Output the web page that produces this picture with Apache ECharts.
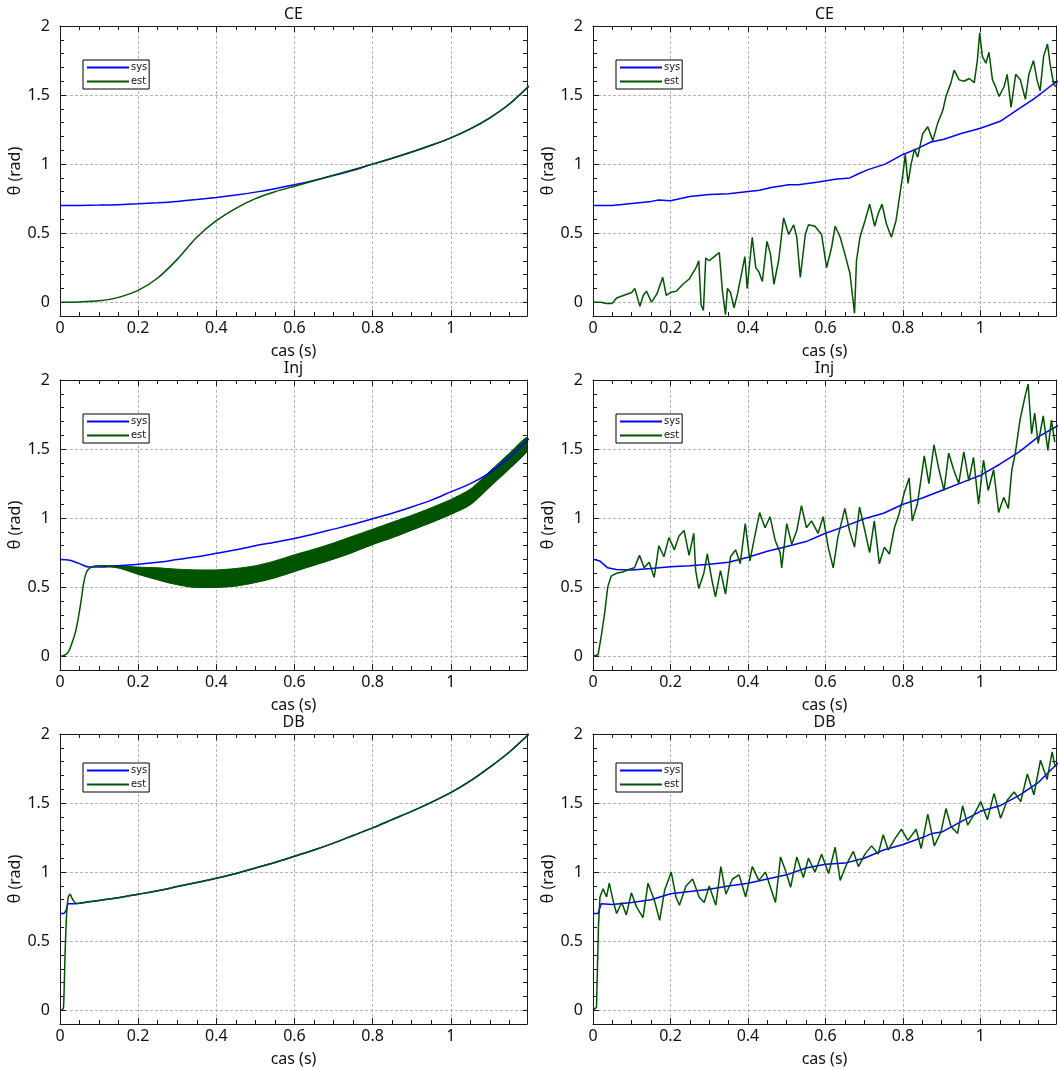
<!DOCTYPE html>
<html><head><meta charset="utf-8">
<script src="https://cdn.jsdelivr.net/npm/echarts@6/dist/echarts.min.js"></script>
<style>html,body{margin:0;padding:0;background:#fff}#c{width:1059px;height:1070px}</style>
</head><body><div id="c"></div>
<script>
// ---------- tick labels ----------
const xTicks = [0, 0.2, 0.4, 0.6, 0.8, 1];
const yTicks = [0, 0.5, 1, 1.5, 2];
const panelTitles = ['CE', 'CE', 'Inj', 'Inj', 'DB', 'DB'];
const seriesNames = ['sys', 'est'];

// ---------- left CE ----------
const leftCE_t   = [0,0.05,0.1,0.15,0.2,0.25,0.3,0.35,0.4,0.45,0.5,0.55,0.6,0.65,0.7,0.75,0.8,0.85,0.9,0.95,1,1.05,1.1,1.15,1.2];
const leftCE_sys = [0.700,0.701,0.703,0.706,0.712,0.720,0.730,0.743,0.758,0.776,0.797,0.822,0.850,0.882,0.917,0.956,1.000,1.042,1.087,1.136,1.190,1.255,1.335,1.435,1.565];
const leftCE_est = [0.000,0.002,0.010,0.035,0.085,0.175,0.310,0.470,0.590,0.680,0.750,0.800,0.840,0.880,0.920,0.960,1.000,1.042,1.087,1.136,1.190,1.255,1.335,1.435,1.565];

// ---------- left Inj ----------
const leftInj_sys_t = [0,0.025,0.05,0.075,0.1,0.15,0.2,0.25,0.3,0.35,0.4,0.45,0.5,0.55,0.6,0.65,0.7,0.75,0.8,0.85,0.9,0.95,1,1.05,1.1,1.15,1.2];
const leftInj_sys   = [0.700,0.695,0.670,0.645,0.645,0.655,0.665,0.680,0.700,0.720,0.745,0.770,0.800,0.825,0.853,0.885,0.920,0.955,0.995,1.035,1.080,1.130,1.190,1.250,1.330,1.440,1.575];
const leftInj_est_t = [0,0.01,0.021,0.03,0.04,0.047,0.054,0.06,0.068,0.08,0.1,0.15,0.2,0.25,0.3,0.35,0.4,0.45,0.5,0.55,0.6,0.65,0.7,0.75,0.8,0.85,0.9,0.95,1,1.05,1.1,1.15,1.195];
const leftInj_est   = [0,0.005,0.03,0.09,0.18,0.28,0.40,0.52,0.61,0.645,0.655,0.640,0.595,0.555,0.520,0.500,0.500,0.510,0.535,0.570,0.615,0.660,0.705,0.755,0.810,0.860,0.915,0.970,1.030,1.100,1.230,1.360,1.485];
// fast oscillation band of est: lower and upper edges
const leftInj_band_t  = [0.1,0.15,0.2,0.25,0.3,0.35,0.4,0.45,0.5,0.55,0.6,0.65,0.7,0.75,0.8,0.85,0.9,0.95,1,1.05,1.1,1.15,1.195];
const leftInj_bandLow = [0.655,0.640,0.595,0.555,0.520,0.500,0.500,0.510,0.535,0.570,0.615,0.660,0.705,0.755,0.810,0.860,0.915,0.970,1.030,1.100,1.230,1.360,1.485];
const leftInj_bandHigh= [0.655,0.655,0.645,0.640,0.630,0.625,0.625,0.635,0.655,0.690,0.735,0.775,0.820,0.870,0.920,0.970,1.020,1.075,1.135,1.210,1.340,1.470,1.585];

// ---------- left DB ----------
const leftDB_sys_t = [0,0.009,0.013,0.017,0.021,0.03,0.045,0.05,0.1,0.15,0.2,0.25,0.3,0.35,0.4,0.45,0.5,0.55,0.6,0.65,0.7,0.75,0.8,0.85,0.9,0.95,1,1.05,1.1,1.15,1.2];
const leftDB_sys   = [0.70,0.70,0.71,0.735,0.77,0.77,0.772,0.775,0.795,0.815,0.840,0.865,0.895,0.925,0.955,0.990,1.030,1.070,1.115,1.160,1.210,1.265,1.320,1.380,1.440,1.505,1.575,1.660,1.760,1.870,2.000];
const leftDB_est_t = [0,0.006,0.009,0.013,0.017,0.021,0.026,0.03,0.038,0.045,0.05,0.1,0.15,0.2,0.25,0.3,0.35,0.4,0.45,0.5,0.55,0.6,0.65,0.7,0.75,0.8,0.85,0.9,0.95,1,1.05,1.1,1.15,1.2];
const leftDB_est   = [0,0.005,0.02,0.41,0.70,0.815,0.84,0.815,0.78,0.772,0.775,0.795,0.815,0.840,0.865,0.895,0.925,0.955,0.990,1.030,1.070,1.115,1.160,1.210,1.265,1.320,1.380,1.440,1.505,1.575,1.660,1.760,1.870,2.000];

// ---------- right CE ----------
const rightCE_sys_t = [0,0.05,0.1,0.15,0.17,0.2,0.25,0.3,0.35,0.395,0.43,0.46,0.505,0.53,0.582,0.625,0.663,0.685,0.71,0.754,0.8,0.836,0.872,0.906,0.948,1.0,1.051,1.094,1.137,1.188,1.2];
const rightCE_sys   = [0.70,0.70,0.715,0.73,0.74,0.735,0.765,0.78,0.785,0.80,0.81,0.83,0.85,0.85,0.87,0.89,0.90,0.93,0.96,1.0,1.07,1.11,1.16,1.18,1.22,1.26,1.31,1.39,1.47,1.58,1.60];
const rightCE_est_t = [0,0.02,0.035,0.049,0.061,0.08,0.1,0.108,0.121,0.13,0.138,0.151,0.165,0.18,0.189,0.2,0.215,0.232,0.249,0.266,0.273,0.279,0.285,0.291,0.3,0.313,0.326,0.334,0.342,0.347,0.355,0.364,0.373,0.385,0.392,0.398,0.411,0.42,0.428,0.437,0.449,0.458,0.467,0.479,0.492,0.505,0.518,0.526,0.535,0.548,0.556,0.573,0.59,0.603,0.616,0.625,0.638,0.65,0.663,0.675,0.68,0.689,0.702,0.714,0.727,0.736,0.746,0.757,0.77,0.782,0.791,0.8,0.806,0.813,0.821,0.83,0.838,0.851,0.864,0.877,0.89,0.903,0.911,0.924,0.932,0.945,0.958,0.971,0.984,0.992,0.998,1.005,1.014,1.022,1.031,1.039,1.048,1.061,1.069,1.079,1.091,1.103,1.116,1.125,1.137,1.146,1.154,1.163,1.173,1.18,1.189,1.195];
const rightCE_est   = [0,0,-0.01,-0.01,0.03,0.05,0.07,0.10,-0.03,0.05,0.08,0.00,0.06,0.18,0.05,0.07,0.08,0.13,0.17,0.25,0.30,-0.02,-0.06,0.32,0.30,0.33,0.36,0.08,-0.09,0.10,0.07,-0.04,0.06,0.23,0.33,0.10,0.47,0.25,0.22,0.15,0.44,0.35,0.13,0.30,0.61,0.49,0.56,0.47,0.18,0.49,0.56,0.55,0.49,0.25,0.40,0.55,0.47,0.35,0.21,-0.08,0.30,0.47,0.59,0.71,0.55,0.64,0.71,0.57,0.47,0.59,0.76,0.93,1.07,0.86,1.00,1.11,1.05,1.22,1.27,1.17,1.30,1.39,1.49,1.59,1.68,1.61,1.60,1.62,1.59,1.75,1.95,1.78,1.73,1.81,1.61,1.56,1.49,1.56,1.65,1.41,1.65,1.61,1.47,1.65,1.75,1.61,1.53,1.78,1.87,1.72,1.58,1.56];

// ---------- right Inj ----------
const rightInj_sys_t = [0,0.017,0.038,0.06,0.1,0.15,0.2,0.25,0.3,0.35,0.4,0.45,0.5,0.55,0.6,0.65,0.7,0.75,0.8,0.85,0.9,0.95,1,1.05,1.1,1.15,1.2];
const rightInj_sys   = [0.703,0.690,0.640,0.628,0.625,0.635,0.648,0.655,0.665,0.680,0.717,0.760,0.795,0.830,0.890,0.940,0.995,1.035,1.100,1.145,1.200,1.255,1.310,1.390,1.480,1.590,1.670];
const rightInj_est_t = [0,0.013,0.021,0.030,0.038,0.047,0.060,0.077,0.094,0.107,0.120,0.132,0.145,0.158,0.170,0.183,0.196,0.210,0.222,0.235,0.248,0.260,0.265,0.273,0.286,0.295,0.307,0.316,0.329,0.342,0.355,0.368,0.380,0.393,0.405,0.419,0.430,0.444,0.457,0.470,0.483,0.487,0.500,0.513,0.526,0.538,0.551,0.564,0.581,0.594,0.607,0.620,0.632,0.650,0.662,0.675,0.688,0.700,0.714,0.726,0.739,0.752,0.765,0.778,0.790,0.803,0.816,0.824,0.837,0.846,0.855,0.867,0.880,0.893,0.906,0.918,0.931,0.944,0.957,0.970,0.982,0.995,1.008,1.020,1.034,1.047,1.060,1.072,1.081,1.090,1.102,1.115,1.123,1.132,1.140,1.149,1.162,1.174,1.183,1.192];
const rightInj_est   = [0.00,0.01,0.14,0.31,0.50,0.58,0.60,0.61,0.63,0.64,0.73,0.64,0.68,0.57,0.80,0.72,0.86,0.77,0.87,0.91,0.73,0.89,0.62,0.49,0.60,0.74,0.55,0.43,0.62,0.45,0.72,0.77,0.67,0.96,0.69,0.89,1.04,0.93,1.01,0.84,0.75,0.64,0.96,0.81,0.91,1.09,0.93,0.98,0.89,1.01,0.79,0.64,0.86,1.07,0.91,0.79,1.08,0.93,0.75,0.98,0.67,0.79,0.74,0.93,1.03,1.18,1.29,0.98,1.10,1.27,1.45,1.25,1.53,1.35,1.20,1.47,1.35,1.25,1.48,1.27,1.44,1.10,1.42,1.20,1.35,1.04,1.15,1.07,1.35,1.47,1.71,1.88,1.97,1.61,1.76,1.54,1.74,1.49,1.71,1.55];

// ---------- right DB ----------
const rightDB_sys_t = [0,0.013,0.021,0.05,0.1,0.15,0.2,0.25,0.3,0.35,0.4,0.45,0.5,0.55,0.6,0.65,0.7,0.75,0.8,0.85,0.875,0.9,0.95,1,1.05,1.1,1.15,1.2];
const rightDB_sys   = [0.70,0.70,0.77,0.765,0.78,0.80,0.843,0.86,0.875,0.90,0.92,0.95,0.98,1.03,1.056,1.065,1.10,1.16,1.20,1.25,1.28,1.29,1.365,1.44,1.48,1.555,1.65,1.79];
const rightDB_est_t = [0,0.009,0.014,0.018,0.026,0.035,0.042,0.052,0.061,0.074,0.086,0.099,0.112,0.129,0.142,0.159,0.172,0.185,0.202,0.214,0.223,0.240,0.257,0.274,0.287,0.300,0.317,0.330,0.343,0.360,0.377,0.394,0.411,0.428,0.445,0.458,0.471,0.484,0.497,0.510,0.526,0.543,0.556,0.573,0.590,0.608,0.625,0.638,0.655,0.672,0.685,0.702,0.719,0.736,0.749,0.762,0.779,0.796,0.813,0.834,0.847,0.864,0.881,0.898,0.911,0.924,0.941,0.954,0.967,0.984,1.001,1.018,1.035,1.052,1.069,1.087,1.104,1.121,1.138,1.155,1.172,1.185,1.193];
const rightDB_est   = [0.00,0.02,0.60,0.82,0.88,0.82,0.92,0.79,0.70,0.78,0.69,0.85,0.75,0.67,0.92,0.79,0.65,0.87,1.00,0.82,0.76,0.90,0.95,0.82,0.78,0.90,0.76,1.04,0.84,0.95,0.98,0.82,1.04,0.94,1.00,0.89,0.78,1.11,1.01,0.89,1.11,0.96,1.10,1.00,1.13,0.99,1.18,0.94,1.06,1.15,1.04,1.13,1.19,1.13,1.27,1.16,1.24,1.31,1.23,1.31,1.17,1.42,1.19,1.29,1.46,1.33,1.28,1.48,1.34,1.42,1.51,1.38,1.57,1.39,1.52,1.58,1.51,1.71,1.56,1.81,1.67,1.87,1.76];

// ---------- styling / layout ----------
const FONT = 'Noto Sans';
const AX = '#1a1a1a';
const GRIDC = '#b4b4b4';
const SYS_C = '#0000ff';
const EST_C = '#005400';
const X_MAX = 1.195, Y_MIN = -0.1, Y_MAX = 2;

const layout = [
  {left: 60,  top: 26,  width: 467, legendLeft: 83,  legendTop: 60},
  {left: 593, top: 26,  width: 465, legendLeft: 616, legendTop: 60},
  {left: 60,  top: 380, width: 467, legendLeft: 83,  legendTop: 414},
  {left: 593, top: 380, width: 465, legendLeft: 616, legendTop: 414},
  {left: 60,  top: 734, width: 467, legendLeft: 83,  legendTop: 763},
  {left: 593, top: 734, width: 465, legendLeft: 616, legendTop: 763}
];

const zip = (t, v) => t.map((x, i) => [x, v[i]]);
const isTick = (arr, v) => arr.some(k => Math.abs(k - v) < 1e-6);

function lineSeries(name, gi, t, v, color, extra) {
  return Object.assign({
    type: 'line', name: name, xAxisIndex: 2 * gi, yAxisIndex: 3 * gi,
    data: zip(t, v), symbol: 'none', showSymbol: false,
    lineStyle: {color: color, width: 1.5}, itemStyle: {color: color},
    emphasis: {disabled: true}, animation: false
  }, extra || {});
}

const grids = [], xAxes = [], yAxes = [], legends = [];
layout.forEach((p, i) => {
  grids.push({left: p.left, top: p.top, width: p.width, height: 290, containLabel: false});
  const baseX = {
    gridIndex: i, type: 'value', min: 0, max: X_MAX, interval: 0.2,
    axisLine: {show: true, onZero: false, lineStyle: {color: AX, width: 1}},
    axisTick: {show: true, inside: true, length: 6, lineStyle: {color: AX}},
    minorTick: {show: true, splitNumber: 4, length: 4, lineStyle: {color: AX}}
  };
  xAxes.push(Object.assign({}, baseX, {
    position: 'bottom',
    splitLine: {show: true, lineStyle: {color: GRIDC, type: [3, 2], width: 1}},
    axisLabel: {margin: 4, color: '#111', fontSize: 16, fontFamily: FONT,
      formatter: v => isTick(xTicks, v) ? String(+(+v).toFixed(2)) : ''},
    name: 'cas (s)', nameLocation: 'middle', nameGap: 27,
    nameTextStyle: {fontSize: 16, color: '#111', fontFamily: FONT}
  }));
  xAxes.push(Object.assign({}, baseX, {
    position: 'top', splitLine: {show: false}, axisLabel: {show: false},
    name: panelTitles[i], nameLocation: 'middle', nameGap: 4,
    nameTextStyle: {fontSize: 16, color: '#111', fontFamily: FONT}
  }));
  yAxes.push({
    gridIndex: i, type: 'value', min: Y_MIN, max: Y_MAX, interval: 0.1, position: 'left',
    axisLine: {show: true, onZero: false, lineStyle: {color: AX, width: 1}},
    axisTick: {show: true, inside: true, length: 4, lineStyle: {color: AX}},
    axisLabel: {show: false}, splitLine: {show: false}
  });
  yAxes.push({
    gridIndex: i, type: 'value', min: Y_MIN, max: Y_MAX, position: 'left',
    axisLine: {show: false, onZero: false},
    axisTick: {show: true, inside: true, length: 6, customValues: yTicks, lineStyle: {color: AX}},
    axisLabel: {show: true, customValues: yTicks, margin: 10, color: '#111', fontSize: 16, fontFamily: FONT,
      formatter: v => isTick(yTicks, v) ? String(+(+v).toFixed(2)) : ''},
    splitLine: {show: true, lineStyle: {color: GRIDC, type: [3, 2], width: 1}},
    name: 'θ (rad)', nameLocation: 'middle', nameGap: 34, nameRotate: 90,
    nameTextStyle: {fontSize: 16, color: '#111', fontFamily: FONT}
  });
  yAxes.push({
    gridIndex: i, type: 'value', min: Y_MIN, max: Y_MAX, interval: 0.1, position: 'right',
    axisLine: {show: true, onZero: false, lineStyle: {color: AX, width: 1}},
    axisTick: {show: true, inside: true, length: 4, lineStyle: {color: AX}},
    axisLabel: {show: false}, splitLine: {show: false}
  });
  legends.push({
    left: p.legendLeft, top: p.legendTop, orient: 'vertical', data: seriesNames,
    itemWidth: 42, itemHeight: 10, itemGap: 3, padding: [2, 2, 2, 3],
    borderColor: '#000', borderWidth: 1, backgroundColor: '#fff',
    selectedMode: false,
    itemStyle: {opacity: 0},
    textStyle: {fontSize: 11, color: '#111', fontFamily: 'DejaVu Sans Condensed', padding: [0, 0, 0, -3]}
  });
});

const smooth = {smooth: 0.3};

// filled band between the two read edges, placed through the axes
const bandSeries = {
  type: 'custom', name: 'est band', xAxisIndex: 4, yAxisIndex: 6,
  data: leftInj_band_t.map((t, k) => [t, leftInj_bandLow[k], leftInj_bandHigh[k]]),
  encode: {x: 0, y: [1, 2]},
  clip: true, silent: true, animation: false,
  renderItem: function (params, api) {
    if (params.dataIndex !== 0) return null;
    const pts = [];
    for (let k = 0; k < leftInj_band_t.length; k++) pts.push(api.coord([leftInj_band_t[k], leftInj_bandHigh[k]]));
    for (let k = leftInj_band_t.length - 1; k >= 0; k--) pts.push(api.coord([leftInj_band_t[k], leftInj_bandLow[k]]));
    return {type: 'polygon', shape: {points: pts, smooth: 0.25}, style: {fill: EST_C, stroke: EST_C, lineWidth: 1}};
  }
};

const series = [
  lineSeries('sys', 0, leftCE_t, leftCE_sys, SYS_C, smooth),
  lineSeries('est', 0, leftCE_t, leftCE_est, EST_C, smooth),

  lineSeries('sys', 1, rightCE_sys_t, rightCE_sys, SYS_C),
  lineSeries('est', 1, rightCE_est_t, rightCE_est, EST_C),

  lineSeries('sys', 2, leftInj_sys_t, leftInj_sys, SYS_C, smooth),
  bandSeries,
  lineSeries('est', 2, leftInj_est_t, leftInj_est, EST_C, smooth),

  lineSeries('sys', 3, rightInj_sys_t, rightInj_sys, SYS_C),
  lineSeries('est', 3, rightInj_est_t, rightInj_est, EST_C),

  lineSeries('sys', 4, leftDB_sys_t, leftDB_sys, SYS_C, smooth),
  lineSeries('est', 4, leftDB_est_t, leftDB_est, EST_C, smooth),

  lineSeries('sys', 5, rightDB_sys_t, rightDB_sys, SYS_C),
  lineSeries('est', 5, rightDB_est_t, rightDB_est, EST_C)
];

const chart = echarts.init(document.getElementById('c'), null, {renderer: 'canvas'});
chart.setOption({
  backgroundColor: '#fff',
  animation: false,
  textStyle: {fontFamily: FONT},
  grid: grids, xAxis: xAxes, yAxis: yAxes, legend: legends, series: series
});
</script>
</body></html>
